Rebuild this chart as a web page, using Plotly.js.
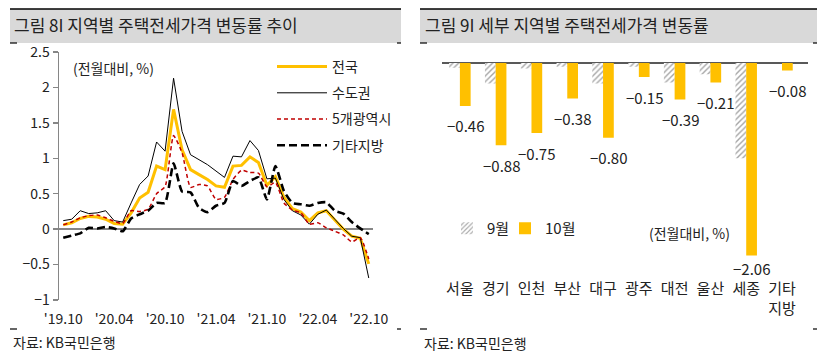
<!DOCTYPE html>
<html><head><meta charset="utf-8">
<script src="https://cdn.plot.ly/plotly-3.0.1.min.js"></script>
<style>html,body{margin:0;padding:0;background:#fff;} #chart{width:819px;height:358px;}</style>
</head><body><div id="chart"></div>
<script>
const months = ["'19.10","'19.11","'19.12",
  "'20.01","'20.02","'20.03","'20.04","'20.05","'20.06","'20.07","'20.08","'20.09","'20.10","'20.11","'20.12",
  "'21.01","'21.02","'21.03","'21.04","'21.05","'21.06","'21.07","'21.08","'21.09","'21.10","'21.11","'21.12",
  "'22.01","'22.02","'22.03","'22.04","'22.05","'22.06","'22.07","'22.08","'22.09","'22.10"];
const tickMonths = ["'19.10","'20.04","'20.10","'21.04","'21.10","'22.04","'22.10"];
const national = [0.06,0.09,0.15,0.18,0.17,0.14,0.08,0.07,0.23,0.44,0.52,0.89,0.84,1.69,1.12,0.84,0.77,0.70,0.61,0.59,0.89,0.90,1.02,0.94,0.62,0.74,0.45,0.29,0.24,0.12,0.23,0.26,0.13,0.00,-0.10,-0.13,-0.49];
const capital  = [0.12,0.14,0.26,0.22,0.23,0.26,0.12,0.10,0.37,0.63,0.75,1.23,1.10,2.13,1.38,1.05,0.98,0.91,0.82,0.73,1.03,1.02,1.25,1.11,0.71,0.72,0.42,0.26,0.20,0.07,0.21,0.27,0.14,0.01,-0.10,-0.12,-0.69];
const metro    = [0.06,0.10,0.16,0.19,0.20,0.16,0.11,0.08,0.26,0.25,0.28,0.50,0.60,1.32,1.08,0.59,0.63,0.61,0.42,0.45,0.70,0.83,0.80,0.79,0.60,0.66,0.37,0.27,0.23,0.07,0.09,0.02,-0.03,-0.08,-0.18,-0.12,-0.42];
const others   = [-0.12,-0.09,-0.06,0.02,0.01,0.03,0.01,-0.03,0.15,0.21,0.26,0.37,0.37,0.93,0.53,0.52,0.30,0.24,0.33,0.37,0.68,0.61,0.68,0.73,0.42,0.89,0.54,0.37,0.35,0.33,0.37,0.38,0.26,0.22,0.10,0.01,-0.07];
const seriesNames = ['전국','수도권','5개광역시','기타지방'];
const yTicks = [-1,-0.5,0,0.5,1,1.5,2,2.5];

const regions = ['서울','경기','인천','부산','대구','광주','대전','울산','세종','기타<br>지방'];
const sep = [-0.05,-0.22,-0.06,-0.04,-0.22,-0.04,-0.21,-0.12,-1.02,0.00];
const oct = [-0.46,-0.88,-0.75,-0.38,-0.80,-0.15,-0.39,-0.21,-2.06,-0.08];
const barNames = ['9월','10월'];

const W = 819, H = 358;
const px = v => v / W, py = v => 1 - v / H;
const FONT = "'Noto Sans CJK KR', 'Noto Sans', sans-serif";
const TXT = '#222222';
const fmt = v => (v < 0 ? '\u2212' : '') + Math.abs(v).toFixed(2);
const fmtTick = v => (v < 0 ? '\u2212' : '') + String(Math.abs(v));

const yDomL = [py(300), py(52)];
const yRangeL = [-1, 2.5];
const zeroPos = yDomL[0] + (0 - yRangeL[0]) / (yRangeL[1] - yRangeL[0]) * (yDomL[1] - yDomL[0]);
const minorTicks = [];
for (let i = -0.5; i < months.length - 1; i += 3) minorTicks.push(i);

const lineStyles = [
  {color:'#FFC000', width:3},
  {color:'#000000', width:1},
  {color:'#C00000', width:1.5, dash:'4px,3px', shape:'spline', smoothing:0.5},
  {color:'#000000', width:2.6, dash:'8px,4px', shape:'spline', smoothing:0.5}
];
const lineData = [national, capital, metro, others];

const traces = lineData.map((d, k) => ({
  type:'scatter', mode:'lines', x: months, y: d, name: seriesNames[k],
  xaxis:'x', yaxis:'y', legend:'legend', legendgroup:'g'+k,
  line: lineStyles[k], hoverinfo:'skip'
}));

traces.push({
  type:'bar', x: regions, y: sep, name: barNames[0], xaxis:'x2', yaxis:'y2', legend:'legend2',
  marker:{color:'#ffffff', line:{width:0}, pattern:{shape:'/', fgcolor:'#a6a6a6', bgcolor:'#ffffff', size:4, solidity:0.35}},
  hoverinfo:'skip'
});
traces.push({
  type:'bar', x: regions, y: oct, name: barNames[1], xaxis:'x2', yaxis:'y2', legend:'legend3',
  marker:{color:'#FFC000', line:{width:0}}, hoverinfo:'skip'
});

const annotations = [];
oct.forEach((v, i) => annotations.push({
  x: regions[i], y: v, xref:'x2', yref:'y2', text: fmt(v), showarrow:false,
  xshift: 5.5, yshift: v < -2 ? -13 : -20, font:{family:FONT, size:15, color:TXT}
}));
annotations.push(
  {xref:'paper', yref:'paper', x:px(12), y:py(25), xanchor:'left', yanchor:'middle', showarrow:false,
   text:'그림 8I 지역별 주택전세가격 변동률 추이', font:{family:FONT, size:17, color:TXT}},
  {xref:'paper', yref:'paper', x:px(423), y:py(25), xanchor:'left', yanchor:'middle', showarrow:false,
   text:'그림 9I 세부 지역별 주택전세가격 변동률', font:{family:FONT, size:17, color:TXT}},
  {xref:'paper', yref:'paper', x:px(11), y:py(342), xanchor:'left', yanchor:'middle', showarrow:false,
   text:'자료: KB국민은행', font:{family:FONT, size:14, color:TXT}},
  {xref:'paper', yref:'paper', x:px(422), y:py(343), xanchor:'left', yanchor:'middle', showarrow:false,
   text:'자료: KB국민은행', font:{family:FONT, size:14, color:TXT}},
  {xref:'paper', yref:'paper', x:px(71), y:py(68), xanchor:'left', yanchor:'middle', showarrow:false,
   text:'(전월대비, %)', font:{family:FONT, size:14, color:TXT}},
  {xref:'paper', yref:'paper', x:px(647), y:py(233), xanchor:'left', yanchor:'middle', showarrow:false,
   text:'(전월대비, %)', font:{family:FONT, size:14, color:TXT}}
);

const shapes = [];
const band = (x0, x1) => {
  shapes.push({type:'rect', xref:'paper', yref:'paper', x0:px(x0), x1:px(x1), y0:py(43), y1:py(9),
    fillcolor:'#d9d9d9', line:{width:0}, layer:'below'});
  shapes.push({type:'line', xref:'paper', yref:'paper', x0:px(x0), x1:px(x1), y0:py(9), y1:py(9),
    line:{color:'#000', width:1.5}});
  [[x0, x0+7],[x1-4, x1]].forEach(([a,b]) => {
    [43, 329].forEach(yy => shapes.push({type:'line', xref:'paper', yref:'paper', x0:px(a), x1:px(b),
      y0:py(yy), y1:py(yy), line:{color:'#000', width:1.2}}));
  });
};
band(10, 401);
band(420, 817);

const smallLegend = xPix => ({orientation:'h', x:px(xPix), y:py(212), xanchor:'left', yanchor:'top',
  bgcolor:'rgba(0,0,0,0)', font:{family:FONT, size:15, color:TXT}, itemwidth:30});

const layout = {
  width: W, height: H, margin:{l:0, r:0, t:0, b:0},
  paper_bgcolor:'#ffffff', plot_bgcolor:'rgba(0,0,0,0)',
  font:{family:FONT, color:TXT},
  showlegend:true, barmode:'group', bargap:0.4, bargroupgap:0,
  xaxis:{domain:[px(59), px(373)], anchor:'y', type:'category', range:[-0.5, months.length - 0.5],
    tickmode:'array', tickvals: tickMonths, ticktext: tickMonths, showgrid:false, zeroline:false, showline:false,
    ticks:'outside', ticklen:6, tickcolor:'rgba(0,0,0,0)', tickfont:{family:FONT, size:14, color:TXT}},
  xaxis3:{overlaying:'x', anchor:'free', position: zeroPos, side:'bottom', type:'linear',
    range:[-0.5, months.length - 0.5], tickmode:'array', tickvals: minorTicks, showticklabels:false,
    ticks:'outside', ticklen:5, tickwidth:1.5, tickcolor:'#868686', showgrid:false, zeroline:false, showline:false},
  yaxis:{domain: yDomL, anchor:'x', range: yRangeL, tickmode:'array', tickvals: yTicks,
    ticktext: yTicks.map(fmtTick), showgrid:false, showline:true, linecolor:'#868686', linewidth:1.5,
    ticks:'outside', ticklen:5, tickwidth:1.5, tickcolor:'#868686',
    zeroline:true, zerolinecolor:'#868686', zerolinewidth:2, tickfont:{family:FONT, size:14, color:TXT}},
  xaxis2:{domain:[px(442), px(808)], anchor:'y2', type:'category', showgrid:false, zeroline:false,
    showline:false, ticks:'', tickfont:{family:FONT, size:15, color:TXT}},
  yaxis2:{domain:[py(278), py(62.7)], anchor:'x2', range:[-2.3, 0.003], showgrid:false, showline:false,
    showticklabels:false, ticks:'', zeroline:true, zerolinecolor:'#595959', zerolinewidth:2},
  legend:{x:px(272), y:py(51), xanchor:'left', yanchor:'top', bgcolor:'rgba(0,0,0,0)',
    font:{family:FONT, size:14, color:TXT}, tracegroupgap:5, itemwidth:50, traceorder:'grouped'},
  legend2: smallLegend(447),
  legend3: smallLegend(505),
  annotations, shapes
};

Plotly.newPlot('chart', traces, layout, {staticPlot:true, displayModeBar:false});
</script>
</body></html>
